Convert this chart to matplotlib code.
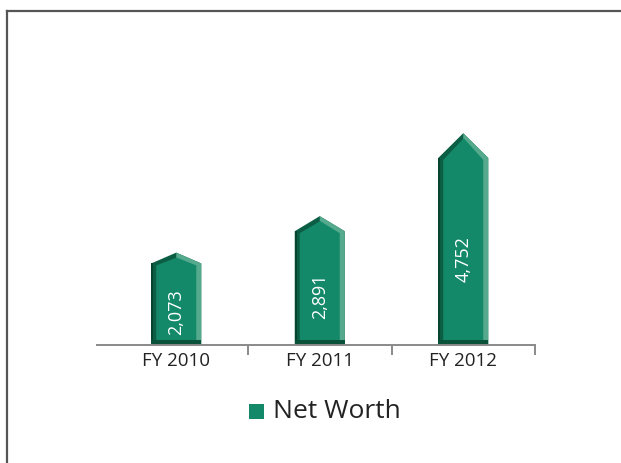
import matplotlib
matplotlib.use("Agg")
import matplotlib.pyplot as plt
from matplotlib.patches import Polygon, Rectangle
from matplotlib.lines import Line2D

years = ["FY 2010", "FY 2011", "FY 2012"]
net_worth = [2073, 2891, 4752]
series_name = "Net Worth"

MID = "#13896a"
DARK = "#0b5e44"
DARKEST = "#074430"
LIGHT = "#55a98c"
BOTTOM = "#0a5139"

plt.rcParams["font.family"] = ["Open Sans", "DejaVu Sans"]

W, H = 621, 463
fig = plt.figure(figsize=(W / 100, H / 100), dpi=100)
fig.patch.set_facecolor("white")

# plot area: baseline at y=345 px, x from 97 to 535 px
ax_top = 33
ax = fig.add_axes([97 / W, (H - 345) / H, 438 / W, (345 - ax_top) / H])
ymax = 7000
unit = 143.5                        # pixels per category
ax.set_xlim(2.5 - 438 / unit, 2.5)
ax.set_ylim(0, ymax)
px = ymax / (345 - ax_top)          # data units per pixel (y)
pxx = 1 / unit                      # data units per pixel (x)


def arrow(xa, xb, yb, ys, yt, xc):
    return [(xa, yb), (xa, ys), (xc, yt), (xb, ys), (xb, yb)]


half = 25 * pxx
for i, v in enumerate(net_worth):
    x0, x1 = i - half, i + half
    shoulder = v * 0.883
    b = 5 * pxx
    # dark outer shape, light right half, mid-tone inset face
    ax.add_patch(Polygon(arrow(x0, x1, 0, shoulder, v, i), closed=True,
                         facecolor=DARK, lw=0))
    ax.add_patch(Polygon([(i, 0), (i, v), (x1, shoulder), (x1, 0)], closed=True,
                         facecolor=LIGHT, lw=0))
    ax.add_patch(Polygon(arrow(x0 + b, x1 - b, 0, shoulder - 2 * px,
                               v - 5 * px, i + 0.5 * pxx),
                         closed=True, facecolor=MID, lw=0))
    # darkest edge on the left
    ax.add_patch(Polygon([(x0, 0), (x0, shoulder), (x0 + 2 * pxx, shoulder),
                          (x0 + 2 * pxx, 0)], closed=True, facecolor=DARKEST, lw=0))
    # bottom bevel
    ax.add_patch(Rectangle((x0, 0), x1 - x0, 5 * px, facecolor=BOTTOM, lw=0))
    ax.text(i, v * 0.45 - 200, f"{v:,}", rotation=90, color="white",
            ha="center", va="center", fontsize=13)

for s in ["top", "right", "left"]:
    ax.spines[s].set_visible(False)
ax.spines["bottom"].set_color("#8a8a8a")
ax.spines["bottom"].set_linewidth(1.4)
ax.set_yticks([])
ax.set_xticks([0.5, 1.5, 2.5])
ax.set_xticklabels([])
ax.tick_params(axis="x", which="major", length=7, width=1.4, color="#8a8a8a")
ax.set_xticks(range(len(years)), minor=True)
ax.set_xticklabels(years, minor=True, fontsize=13.5, color="#222222")
ax.tick_params(axis="x", which="minor", length=0, pad=5)

# legend
fig.patches.append(Rectangle((249 / W, (H - 419) / H), 15 / W, 15 / H,
                             transform=fig.transFigure, facecolor=MID, lw=0))
fig.text(273 / W, (H - 412) / H, series_name, fontsize=19, color="#222222",
         ha="left", va="center")

# frame lines on top and left
fig.add_artist(Line2D([6.5 / W, 1], [(H - 10.5) / H] * 2, color="#555555", lw=1.6))
fig.add_artist(Line2D([6.5 / W] * 2, [0, (H - 10.5) / H], color="#555555", lw=1.6))

fig.savefig("out.png", dpi=100)
